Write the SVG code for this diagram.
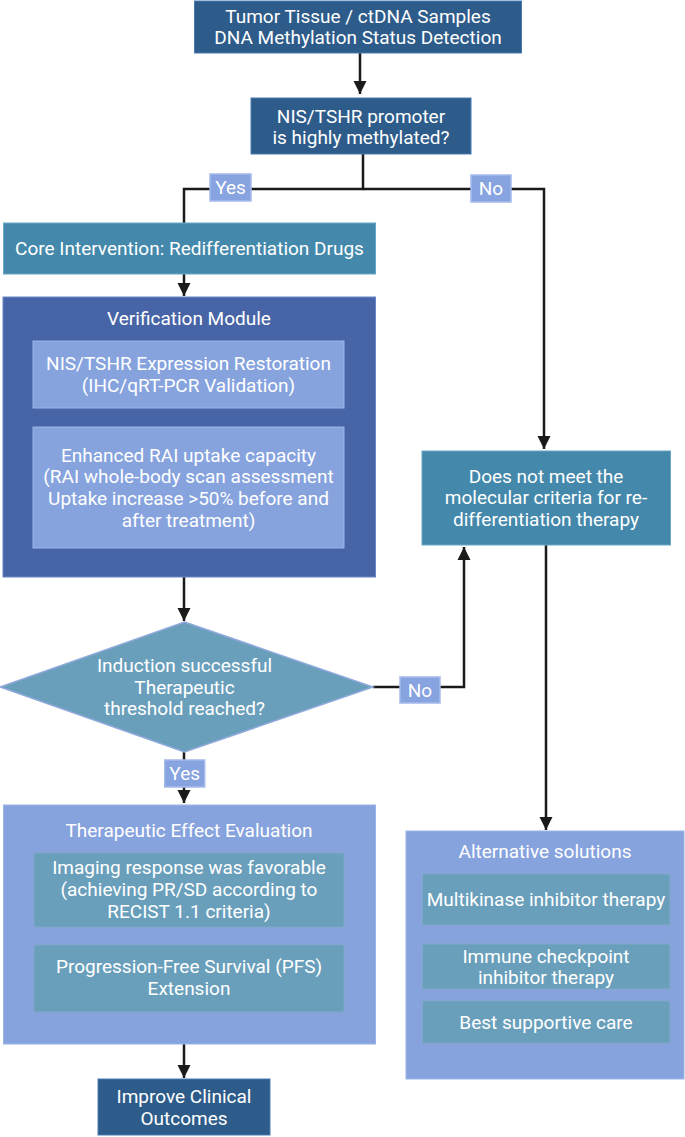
<svg xmlns="http://www.w3.org/2000/svg" width="685" height="1137" viewBox="0 0 685 1137">
<defs>
<marker id="ah" viewBox="0 0 10 10" refX="10" refY="5" markerWidth="5.2" markerHeight="5.6" orient="auto" markerUnits="strokeWidth">
<path d="M0,0 L10,5 L0,10 z" fill="#1a1a1a"/>
</marker>
<style>
text{font-family:Roboto,"Liberation Sans",sans-serif;font-size:19px;fill:#ffffff;text-anchor:middle}
.dark{fill:#2e5c8a;stroke:#4a7bb0;stroke-width:1}
.teal{fill:#4489ab;stroke:#6aa7c6;stroke-width:1}
.ver{fill:#4765a6;stroke:#6a86c4;stroke-width:1}
.light{fill:#86a3de;stroke:#9bb4e8;stroke-width:1}
.dia{fill:#6a9fbc;stroke:#8fa9dc;stroke-width:1.5}
.inner{fill:#6a9fbc;stroke:#7fa8c8;stroke-width:1}
.lbl{fill:#87a3e0;stroke:#a5bbec;stroke-width:1.5}
.edge{fill:none;stroke:#1a1a1a;stroke-width:2.5}
</style>
</defs>
<rect width="685" height="1137" fill="#ffffff"/>

<g id="connectors">
<path class="edge" d="M360,53 V94" marker-end="url(#ah)"/>
<path class="edge" d="M363,154 V189 H184 V223"/>
<path class="edge" d="M363,189 H544 V449" marker-end="url(#ah)"/>
<path class="edge" d="M184,274 V296" marker-end="url(#ah)"/>
<path class="edge" d="M184,577 V621" marker-end="url(#ah)"/>
<path class="edge" d="M373,687 H464 V547" marker-end="url(#ah)"/>
<path class="edge" d="M546,545 V830" marker-end="url(#ah)"/>
<path class="edge" d="M184,752 V803" marker-end="url(#ah)"/>
<path class="edge" d="M184,1044 V1078" marker-end="url(#ah)"/>
</g>

<g id="labels">
<g id="lbl-yes1"><rect class="lbl" x="210" y="174" width="41" height="27"/><text x="230.5" y="194">Yes</text></g>
<g id="lbl-no1"><rect class="lbl" x="471" y="175" width="40" height="27"/><text x="491" y="195">No</text></g>
<g id="lbl-no2"><rect class="lbl" x="400" y="677" width="40" height="26"/><text x="420" y="697">No</text></g>
</g>

<g id="n-samples">
<rect class="dark" x="194.5" y="1" width="327" height="52"/>
<text x="358" y="23">Tumor Tissue / ctDNA Samples</text>
<text x="358" y="44">DNA Methylation Status Detection</text>
</g>

<g id="n-promoter">
<rect class="dark" x="251" y="98" width="220" height="56"/>
<text x="361" y="123">NIS/TSHR promoter</text>
<text x="361" y="144">is highly methylated?</text>
</g>

<g id="n-core">
<rect class="teal" x="3.5" y="223" width="372" height="51"/>
<text x="189.5" y="255">Core Intervention: Redifferentiation Drugs</text>
</g>

<g id="n-verification">
<rect class="ver" x="3" y="297" width="372.5" height="280"/>
<text x="189" y="325">Verification Module</text>
<rect class="light" x="33" y="341" width="311" height="67"/>
<text x="188.5" y="370">NIS/TSHR Expression Restoration</text>
<text x="188.5" y="392">(IHC/qRT-PCR Validation)</text>
<rect class="light" x="33" y="427" width="311" height="121"/>
<text x="188.5" y="462">Enhanced RAI uptake capacity</text>
<text x="188.5" y="483">(RAI whole-body scan assessment</text>
<text x="188.5" y="505">Uptake increase &gt;50% before and</text>
<text x="188.5" y="527">after treatment)</text>
</g>

<g id="n-notmeet">
<rect class="teal" x="422" y="451" width="248.5" height="94"/>
<text x="546" y="483">Does not meet the</text>
<text x="546" y="504">molecular criteria for re-</text>
<text x="546" y="526">differentiation therapy</text>
</g>

<g id="n-induction">
<polygon class="dia" points="184.5,622 373,687 184.5,752 0,687"/>
<text x="184.5" y="672">Induction successful</text>
<text x="184.5" y="694">Therapeutic</text>
<text x="184.5" y="715">threshold reached?</text>
</g>

<g id="lbl-yes2"><rect class="lbl" x="164.7" y="760" width="40" height="27"/><text x="184.7" y="780">Yes</text></g>

<g id="n-evaluation">
<rect class="light" x="3.5" y="805" width="372" height="239"/>
<text x="189" y="837">Therapeutic Effect Evaluation</text>
<rect class="inner" x="34" y="853" width="310" height="74"/>
<text x="189" y="874">Imaging response was favorable</text>
<text x="189" y="896">(achieving PR/SD according to</text>
<text x="189" y="918">RECIST 1.1 criteria)</text>
<rect class="inner" x="34" y="945" width="310" height="67"/>
<text x="189" y="973">Progression-Free Survival (PFS)</text>
<text x="189" y="995">Extension</text>
</g>

<g id="n-alternative">
<rect class="light" x="406" y="831" width="278" height="248"/>
<text x="545" y="858">Alternative solutions</text>
<rect class="inner" x="422.5" y="874" width="247.5" height="51"/>
<text x="546" y="906">Multikinase inhibitor therapy</text>
<rect class="inner" x="422.5" y="944" width="247.5" height="45"/>
<text x="546" y="963">Immune checkpoint</text>
<text x="546" y="984">inhibitor therapy</text>
<rect class="inner" x="422.5" y="1001" width="247.5" height="42"/>
<text x="546" y="1029">Best supportive care</text>
</g>

<g id="n-improve">
<rect class="dark" x="98" y="1079" width="172" height="56"/>
<text x="184" y="1103">Improve Clinical</text>
<text x="184" y="1125">Outcomes</text>
</g>
</svg>
